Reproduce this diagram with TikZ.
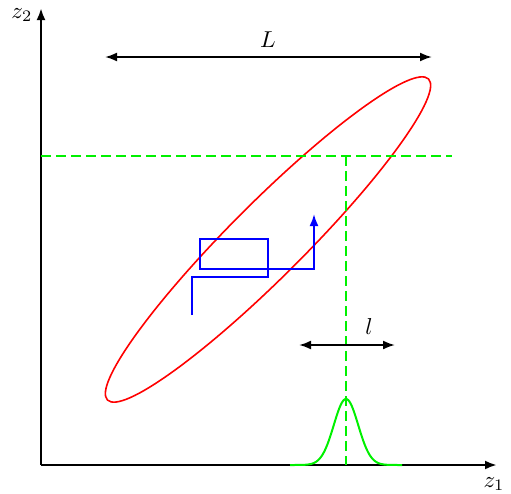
\documentclass[tikz,border=0pt]{standalone}
\usepackage{graphicx}
\usetikzlibrary{arrows.meta}
\definecolor{pgreen}{RGB}{0,240,0}
\definecolor{pred}{RGB}{255,0,0}
\definecolor{pblue}{RGB}{0,0,255}
\newcommand{\biglbl}[1]{\scalebox{2.3}{#1}}
\begin{document}
\begin{tikzpicture}[x=1pt,y=-1pt,
  axis/.style={line width=2.4pt,-{Latex[length=12pt,width=9pt]}},
  dimarrow/.style={line width=2pt,{Latex[length=12pt,width=9pt]}-{Latex[length=12pt,width=9pt]}},
  guide/.style={pgreen,line width=2pt,dash pattern=on 10pt off 5pt},
  lbl/.style={inner sep=0pt}]
\useasboundingbox (0,0) rectangle (511,493);
% axes
\coordinate (O) at (41,465);
\coordinate (Xend) at (497,465);
\coordinate (Yend) at (41,8);
\draw[axis] (O) -- (Xend);
\draw[axis] (O) -- (Yend);
\node[lbl] (z1) at (494,484) {\biglbl{$z_1$}};
\node[lbl] (z2) at (22,15) {\biglbl{$z_2$}};
% ellipse
\coordinate (C) at (268,239.5);
\draw[pred,line width=1.6pt,rotate around={45:(C)}] (C) ellipse [x radius=227, y radius=37];
% L arrow
\coordinate (La) at (105,57);
\coordinate (Lb) at (432,57);
\draw[dimarrow] (La) -- (Lb);
\node[lbl] (Ltext) at (268,40) {\biglbl{$L$}};
% guides
\coordinate (Ha) at (41,156);
\coordinate (Hb) at (452,156);
\coordinate (Va) at (346,156);
\coordinate (Vb) at (346,465);
\draw[guide] (Ha) -- (Hb);
\draw[guide] (Va) -- (Vb);
% l arrow
\coordinate (la) at (299,345);
\coordinate (lb) at (395,345);
\draw[dimarrow] (la) -- (lb);
\node[lbl] (ltext) at (369,327) {\biglbl{$l$}};
% gaussian
\draw[pgreen,line width=2pt] plot[domain=290:402,samples=120,smooth] (\x,{465-66*exp(-((\x-346)^2)/(2*12.2*12.2))});
% blue path
\coordinate (B0) at (192,315);
\coordinate (B1) at (192,277);
\coordinate (B2) at (268,277);
\coordinate (B3) at (268,239);
\coordinate (B4) at (200,239);
\coordinate (B5) at (200,269);
\coordinate (B6) at (314,269);
\coordinate (B7) at (314,214);
\draw[pblue,line width=2pt,line join=miter,-{Latex[length=12pt,width=9pt]}] (B0) -- (B1) -- (B2) -- (B3) -- (B4) -- (B5) -- (B6) -- (B7);
\end{tikzpicture}
\end{document}
